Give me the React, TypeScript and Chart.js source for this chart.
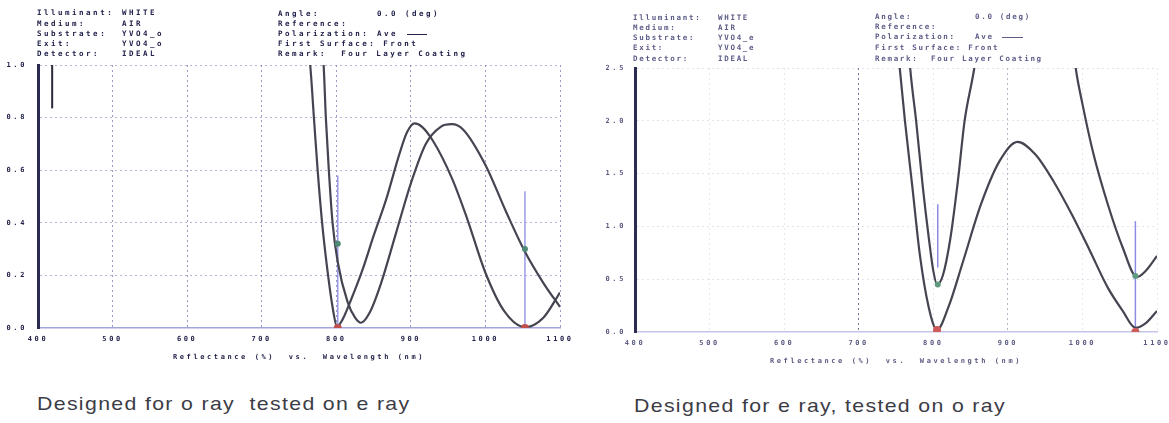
import React, { useEffect, useRef } from "react";
import { Chart, registerables } from "chart.js";
Chart.register(...registerables);

// ---------- axes ----------
const wavelengthTicks = [400, 500, 600, 700, 800, 900, 1000, 1100];
const xTickLabels = ["400", "500", "600", "700", "800", "900", "1000", "1100"];
const leftYTicks = [0, 0.2, 0.4, 0.6, 0.8, 1.0];
const leftYLabels = ["0.0", "0.2", "0.4", "0.6", "0.8", "1.0"];
const rightYTicks = [0, 0.5, 1.0, 1.5, 2.0, 2.5];
const rightYLabels = ["0.0", "0.5", "1.0", "1.5", "2.0", "2.5"];
const axisTitle = "Reflectance (%)  vs.  Wavelength (nm)";

// ---------- left chart (designed for o ray, tested on e ray) ----------
const leftCurveAWl = [760, 765, 770, 775, 781, 789, 795, 801, 808, 818, 835, 850, 867, 885, 895, 905, 915, 930, 955, 975, 1000, 1025, 1053, 1078, 1100];
const leftCurveAR = [1.1, 1.0, 0.8, 0.6, 0.4, 0.2, 0.08, 0.005, 0.03, 0.095, 0.22, 0.35, 0.49, 0.665, 0.745, 0.778, 0.765, 0.71, 0.57, 0.42, 0.21, 0.065, 0.003, 0.04, 0.135];
const leftCurveBWl = [779, 783, 786, 790, 795, 802, 815, 825, 833, 845, 860, 880, 900, 920, 940, 955, 970, 1000, 1028, 1053, 1078, 1100];
const leftCurveBR = [1.1, 1.0, 0.8, 0.6, 0.4, 0.25, 0.1, 0.04, 0.02, 0.06, 0.17, 0.36, 0.55, 0.7, 0.765, 0.775, 0.755, 0.62, 0.44, 0.29, 0.17, 0.08];
const leftMarkerWl = [802, 1053];
const leftMarkerTop = [0.58, 0.52];
const leftMarkerBottom = [0, 0];
const leftMinR = [0, 0];
const leftCursorR = [0.32, 0.3];
const leftCursorLineWl = [419, 419];
const leftCursorLineR = [1.0, 0.835];

// ---------- right chart (designed for e ray, tested on o ray) ----------
const rightCurveCWl = [765, 769, 777, 786, 794, 800, 805, 813, 823, 833, 842, 855, 880, 925, 970, 991, 1000, 1015, 1034, 1054, 1073, 1085, 1100];
const rightCurveCR = [2.9, 2.5, 2.0, 1.37, 0.89, 0.58, 0.45, 0.54, 0.89, 1.43, 2.0, 2.5, 3.8, 4.5, 3.8, 2.5, 2.16, 1.68, 1.21, 0.8, 0.52, 0.58, 0.72];
const rightCurveDWl = [750, 755, 762, 772, 782, 794, 805, 820, 840, 864, 889, 913, 937, 961, 986, 1010, 1034, 1054, 1071, 1085, 1100];
const rightCurveDR = [2.9, 2.5, 2.0, 1.37, 0.73, 0.23, 0.02, 0.23, 0.67, 1.21, 1.62, 1.8, 1.68, 1.43, 1.11, 0.77, 0.42, 0.2, 0.04, 0.085, 0.2];
const rightMarkerWl = [806, 1071];
const rightMarkerTop = [1.21, 1.05];
const rightMarkerBottom = [0.61, 0];
const rightMinWl = [805, 1071];
const rightMinR = [0.02, 0.0];
const rightCursorR = [0.45, 0.53];

// ---------- header texts ----------
const leftHeaderLabels = ["Illuminant:", "Medium:", "Substrate:", "Exit:", "Detector:"];
const leftHeaderValues = ["WHITE", "AIR", "YVO4_o", "YVO4_o", "IDEAL"];
const leftHeader2Labels = ["Angle:", "Reference:", "Polarization:", "First Surface: Front", "Remark:  Four Layer Coating"];
const leftHeader2Values = ["0.0 (deg)", "", "Ave", "", ""];
const rightHeaderValues = ["WHITE", "AIR", "YVO4_e", "YVO4_e", "IDEAL"];

const FONT = "'DejaVu Sans Mono', monospace";

const pts = (xs: number[], ys: number[]) => xs.map((x, i) => ({ x, y: ys[i] }));

function lsPlugin(ls: string) {
  return {
    id: "letterSpacing",
    beforeUpdate(chart: any) {
      chart.ctx.letterSpacing = ls;
    },
    beforeLayout(chart: any) {
      chart.ctx.letterSpacing = ls;
    },
    beforeDraw(chart: any) {
      chart.ctx.letterSpacing = ls;
    },
  };
}

interface ChartSpec {
  datasets: any[];
  yTicks: number[];
  yLabels: string[];
  yMax: number;
  textColor: string;
  gridColorX: (v: number) => string;
  gridColorY: (v: number) => string;
  bottomBorder: string;
  padTop: number;
  padRight: number;
  yWidth: number;
  xHeight: number;
  yPad: number;
  xLabelPad: number;
  titlePadBottom: number;
}

function makeConfig(s: ChartSpec): any {
  return {
    type: "scatter",
    data: { datasets: s.datasets },
    plugins: [lsPlugin("2.6px")],
    options: {
      responsive: false,
      animation: false,
      events: [],
      layout: { padding: { left: 0, top: s.padTop, right: s.padRight, bottom: 0 } },
      plugins: { legend: { display: false }, tooltip: { enabled: false }, title: { display: false } },
      elements: { point: { radius: 0 } },
      scales: {
        x: {
          type: "linear",
          min: 400,
          max: 1100,
          afterBuildTicks: (sc: any) => {
            sc.ticks = wavelengthTicks.map((v) => ({ value: v }));
          },
          afterFit: (sc: any) => {
            sc.height = s.xHeight;
            sc.paddingLeft = 0;
            sc.paddingRight = 0;
          },
          ticks: {
            autoSkip: false,
            maxRotation: 0,
            padding: s.xLabelPad,
            color: s.textColor,
            font: { family: FONT, size: 7, weight: "bold" },
            callback: (_v: any, i: number) => xTickLabels[i],
          },
          grid: {
            drawTicks: false,
            color: (c: any) => s.gridColorX(c.tick ? c.tick.value : 0),
            lineWidth: 1,
          },
          border: { display: true, color: s.bottomBorder, width: 1.5, dash: [2, 3] },
          title: {
            display: true,
            text: axisTitle,
            color: s.textColor,
            font: { family: FONT, size: 7, weight: "bold" },
            padding: { top: 0, bottom: s.titlePadBottom },
          },
        },
        y: {
          type: "linear",
          min: 0,
          max: s.yMax,
          afterBuildTicks: (sc: any) => {
            sc.ticks = s.yTicks.map((v) => ({ value: v }));
          },
          afterFit: (sc: any) => {
            sc.width = s.yWidth;
            sc.paddingTop = 0;
            sc.paddingBottom = 0;
          },
          ticks: {
            padding: s.yPad,
            color: s.textColor,
            font: { family: FONT, size: 7, weight: "bold" },
            callback: (_v: any, i: number) => s.yLabels[i],
          },
          grid: {
            drawTicks: false,
            color: (c: any) => s.gridColorY(c.tick ? c.tick.value : 0),
            lineWidth: 1,
          },
          border: { display: true, color: "#2c2c50", width: 3, dash: [2, 3] },
        },
      },
    },
  };
}

const curve = (data: any[], color: string, w = 2.2) => ({
  data,
  showLine: true,
  borderColor: color,
  borderWidth: w,
  pointRadius: 0,
  cubicInterpolationMode: "monotone",
  capBezierPoints: false,
});

const markerLines = (wl: number[], top: number[], bottom: number[], color: string) =>
  wl.map((w, i) => ({
    data: [
      { x: w, y: bottom[i] },
      { x: w, y: top[i] },
    ],
    showLine: true,
    borderColor: color,
    borderWidth: 1.5,
    pointRadius: 0,
  }));

const dots = (xs: number[], ys: number[], color: string, r: number) => ({
  data: pts(xs, ys),
  showLine: false,
  pointRadius: r,
  pointBackgroundColor: color,
  pointBorderColor: color,
  pointBorderWidth: 0,
});

function ChartCanvas({ spec, width, height, left }: { spec: ChartSpec; width: number; height: number; left: number }) {
  const ref = useRef<HTMLCanvasElement | null>(null);
  useEffect(() => {
    if (!ref.current) return;
    const chart = new Chart(ref.current, makeConfig(spec));
    return () => chart.destroy();
  }, []);
  return <canvas ref={ref} width={width} height={height} style={{ position: "absolute", left, top: 0, width, height }} />;
}

// datasets listed first are drawn on top
const leftSpec: ChartSpec = {
  datasets: [
    dots(leftMarkerWl, leftMinR, "#c0504e", 4),
    dots(leftMarkerWl, leftCursorR, "#4f8a76", 3),
    curve(pts(leftCursorLineWl, leftCursorLineR), "#2a2a3a", 2),
    curve(pts(leftCurveAWl, leftCurveAR), "#454552"),
    curve(pts(leftCurveBWl, leftCurveBR), "#454552"),
    ...markerLines(leftMarkerWl, leftMarkerTop, leftMarkerBottom, "#9a9ae6"),
  ],
  yTicks: leftYTicks,
  yLabels: leftYLabels,
  yMax: 1.0,
  textColor: "#22224a",
  gridColorX: () => "rgba(120,120,175,0.75)",
  gridColorY: (v) => (v === 0 ? "rgba(0,0,0,0)" : "rgba(130,130,185,0.6)"),
  bottomBorder: "#a4a4dc",
  padTop: 65,
  padRight: 25,
  yWidth: 38,
  xHeight: 42,
  yPad: 11,
  xLabelPad: 7,
  titlePadBottom: 9,
};

const rightSpec: ChartSpec = {
  datasets: [
    dots(rightMinWl, rightMinR, "#d05a5a", 4),
    dots(rightMarkerWl, rightCursorR, "#5f9a80", 3),
    curve(pts(rightCurveCWl, rightCurveCR), "#454552"),
    curve(pts(rightCurveDWl, rightCurveDR), "#454552"),
    ...markerLines(rightMarkerWl, rightMarkerTop, rightMarkerBottom, "#8c8ce0"),
  ],
  yTicks: rightYTicks,
  yLabels: rightYLabels,
  yMax: 2.5,
  textColor: "#5a5a82",
  gridColorX: (v) =>
    v === 700 ? "rgba(90,90,130,0.85)" : v === 900 ? "rgba(150,150,170,0.7)" : "rgba(190,190,215,0.35)",
  gridColorY: (v) => (v === 0 ? "rgba(0,0,0,0)" : "rgba(185,185,215,0.4)"),
  bottomBorder: "#c4c4e8",
  padTop: 68,
  padRight: 12,
  yWidth: 38,
  xHeight: 48,
  yPad: 9,
  xLabelPad: 7,
  titlePadBottom: 15,
};

const hdrBase: React.CSSProperties = {
  position: "absolute",
  fontFamily: FONT,
  fontSize: 7.5,
  fontWeight: "bold",
  lineHeight: "8px",
  whiteSpace: "pre",
};

function Header({ x1, x2, x3, x4, ys, ys2, values, color, ls, lineX, lineW }: any) {
  const st = { ...hdrBase, color, letterSpacing: ls };
  return (
    <>
      {leftHeaderLabels.map((t, i) => (
        <div key={"a" + i} style={{ ...st, left: x1, top: ys[i] - 4 }}>{t}</div>
      ))}
      {values.map((t: string, i: number) => (
        <div key={"b" + i} style={{ ...st, left: x2, top: ys[i] - 4 }}>{t}</div>
      ))}
      {leftHeader2Labels.map((t, i) => (
        <div key={"c" + i} style={{ ...st, left: x3, top: ys2[i] - 4 }}>{t}</div>
      ))}
      {leftHeader2Values.map((t, i) => (
        <div key={"d" + i} style={{ ...st, left: x4, top: ys2[i] - 4 }}>{t}</div>
      ))}
      <div style={{ position: "absolute", left: lineX, top: ys2[2], width: lineW, height: 0, borderTop: `1.5px solid ${color}` }} />
    </>
  );
}

const captionStyle: React.CSSProperties = {
  position: "absolute",
  fontFamily: "'Liberation Sans', Arial, sans-serif",
  fontSize: 19,
  lineHeight: "20px",
  letterSpacing: "1.2px",
  color: "#3c3c46",
  whiteSpace: "pre",
  transform: "scaleX(1.12)",
  transformOrigin: "left center",
};

export default function App() {
  return (
    <div style={{ position: "fixed", left: 0, top: 0, width: 1169, height: 423, background: "#ffffff", overflow: "hidden" }}>
      <ChartCanvas spec={leftSpec} width={585} height={370} left={0} />
      <ChartCanvas spec={rightSpec} width={572} height={380} left={597} />
      <Header
        x1={37} x2={122} x3={278} x4={377}
        ys={[13, 24, 34, 44, 54]} ys2={[14, 24, 34, 44, 54]}
        values={leftHeaderValues} color="#20204a" ls="2.5px" lineX={407} lineW={20}
      />
      <Header
        x1={633} x2={718} x3={875} x4={975}
        ys={[18, 28, 38, 48, 59]} ys2={[17, 27, 37, 48, 59]}
        values={rightHeaderValues} color="#5c5c88" ls="1.7px" lineX={1002} lineW={21}
      />
      <div style={{ ...captionStyle, left: 37, top: 394 }}>Designed for o ray  tested on e ray</div>
      <div style={{ ...captionStyle, left: 634, top: 396 }}>Designed for e ray, tested on o ray</div>
    </div>
  );
}
